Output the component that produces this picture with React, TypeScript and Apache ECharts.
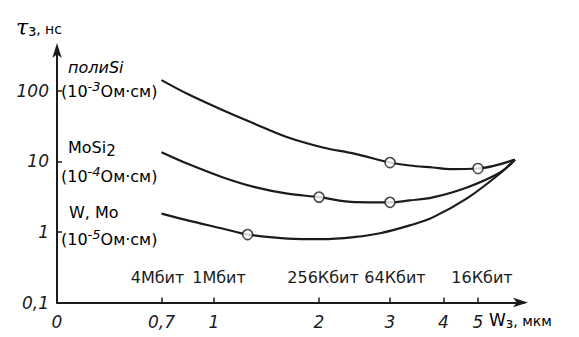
import React, { useEffect, useRef } from "react";
import * as echarts from "echarts";

// Hand-drawn (non-uniform) W axis: tick values and their axis units
const xTickW = [0, 0.7, 1, 2, 3, 4, 5];
const xTickLabels = ["0", "0,7", "1", "2", "3", "4", "5"];
const xScaleUnits = [0, 104.5, 157, 262, 333, 386.5, 421];
const xAxisMax = 467;

const memW = [0.7, 1, 2, 3, 5];
const memLabels = ["4Мбит", "1Мбит", "256Кбит", "64Кбит", "16Кбит"];

const yTicks = [0.1, 1, 10, 100];
const yTickLabels = ["0,1", "1", "10", "100"];

// полиSi (10^-3 Ом·см)
const polySiW = [0.7, 0.85, 1.08, 1.39, 1.7, 2.04, 2.51, 3, 3.37, 3.8, 4.19, 5, 6.07];
const polySiT = [142, 90.1, 53.5, 34.0, 22.0, 15.9, 12.8, 9.65, 8.75, 8.2, 7.8, 7.94, 10.6];
const polySiMarkW = [3, 5];
const polySiMarkT = [9.65, 7.94];

// MoSi2 (10^-4 Ом·см)
const moSi2W = [0.7, 0.85, 1.08, 1.39, 1.7, 2, 2.51, 3, 3.37, 3.8, 4.68, 5.64, 6.07];
const moSi2T = [13.5, 9.25, 5.98, 4.32, 3.49, 3.12, 2.65, 2.63, 2.8, 3.09, 4.28, 6.97, 10.6];
const moSi2MarkW = [2, 3];
const moSi2MarkT = [3.12, 2.63];

// W, Mo (10^-5 Ом·см)
const wMoW = [0.7, 0.85, 1.08, 1.32, 1.7, 2.04, 2.51, 2.86, 3.37, 3.8, 4.68, 5.64, 6.07];
const wMoT = [1.82, 1.46, 1.12, 0.919, 0.807, 0.789, 0.85, 0.96, 1.24, 1.61, 2.99, 6.75, 10.6];
const wMoMarkW = [1.32];
const wMoMarkT = [0.919];

function wToU(w: number): number {
  const n = xTickW.length;
  for (let i = 0; i < n - 1; i++) {
    if (w <= xTickW[i + 1]) {
      const f = (w - xTickW[i]) / (xTickW[i + 1] - xTickW[i]);
      return xScaleUnits[i] + f * (xScaleUnits[i + 1] - xScaleUnits[i]);
    }
  }
  const slope = (xScaleUnits[n - 1] - xScaleUnits[n - 2]) / (xTickW[n - 1] - xTickW[n - 2]);
  return xScaleUnits[n - 1] + (w - xTickW[n - 1]) * slope;
}

const pairs = (ws: number[], ts: number[]) => ws.map((w, i) => [wToU(w), ts[i]]);

const INK = "#1b1b1b";
const FONT = "DejaVu Sans";

export default function App() {
  const ref = useRef<HTMLDivElement>(null);
  useEffect(() => {
    if (!ref.current) return;
    const chart = echarts.init(ref.current, undefined, { renderer: "svg" });
    const tickUnits = xTickW.map(wToU);
    const memUnits = memW.map(wToU);
    const lookup = (units: number[], labels: string[]) => (v: number) => {
      let best = -1;
      let bestD = Infinity;
      for (let i = 0; i < units.length; i++) {
        const d = Math.abs(units[i] - v);
        if (d < bestD) {
          bestD = d;
          best = i;
        }
      }
      return best >= 0 && bestD < 2 ? labels[best] : "";
    };
    const lineSeries = (ws: number[], ts: number[]) => ({
      type: "line",
      data: pairs(ws, ts),
      smooth: 0.35,
      symbol: "none",
      lineStyle: { color: INK, width: 2.2 },
      z: 2,
    });
    const markSeries = (ws: number[], ts: number[]) => ({
      type: "scatter",
      data: pairs(ws, ts),
      symbol: "circle",
      symbolSize: 10,
      itemStyle: { color: "#fff", borderColor: INK, borderWidth: 1.6 },
      z: 3,
    });
    // memory-capacity labels: split over hidden axes so that neighbouring labels are never culled
    const memAxis = (idx: number[], padding: number[]) => ({
      type: "value",
      min: 0,
      max: xAxisMax,
      position: "bottom",
      axisLine: { show: false },
      axisTick: { show: false },
      splitLine: { show: false },
      axisLabel: {
        show: true,
        inside: true,
        hideOverlap: false,
        margin: 17,
        padding,
        customValues: idx.map((i) => memUnits[i]),
        formatter: lookup(memUnits, memLabels),
        fontFamily: FONT,
        fontSize: 16,
        color: INK,
      },
    });
    const noteRich = {
      n: { fontFamily: FONT, fontSize: 16, color: INK },
      i: { fontFamily: FONT, fontSize: 16, fontStyle: "italic", color: INK },
      sup: { fontFamily: FONT, fontSize: 13, fontStyle: "italic", color: INK, padding: [0, 0, 10, 0] },
      sub: { fontFamily: FONT, fontSize: 15, color: INK, padding: [8, 0, 0, 0] },
    };
    chart.setOption({
      animation: false,
      backgroundColor: "#fff",
      grid: { left: 57, right: 579 - 57 - xAxisMax, top: 47, bottom: 34.5, containLabel: false },
      xAxis: [
        {
          type: "value",
          min: 0,
          max: xAxisMax,
          axisLine: {
            show: true,
            onZero: false,
            lineStyle: { color: INK, width: 2 },
            symbol: ["none", "arrow"],
            symbolSize: [7, 15],
            symbolOffset: [0, 4],
          },
          axisTick: {
            show: true,
            inside: true,
            length: 5,
            lineStyle: { color: INK, width: 1.5 },
            customValues: tickUnits.slice(1),
          },
          axisLabel: {
            show: true,
            hideOverlap: false,
            customValues: tickUnits,
            formatter: lookup(tickUnits, xTickLabels),
            fontFamily: FONT,
            fontStyle: "italic",
            fontSize: 17,
            color: INK,
            margin: 11,
          },
          splitLine: { show: false },
        },
        memAxis([0], [0, 8, 0, 0]),
        memAxis([1, 3], [0, 0, 0, 10]),
        memAxis([2, 4], [0, 0, 0, 8]),
      ],
      yAxis: {
        type: "log",
        logBase: 10,
        min: 0.1,
        max: 419,
        axisLine: {
          show: true,
          lineStyle: { color: INK, width: 2 },
          symbol: ["none", "arrow"],
          symbolSize: [7, 15],
          symbolOffset: [0, 4],
        },
        axisTick: {
          show: true,
          inside: true,
          length: 5,
          lineStyle: { color: INK, width: 1.5 },
          customValues: yTicks.slice(1),
        },
        axisLabel: {
          show: true,
          hideOverlap: false,
          customValues: yTicks,
          formatter: (v: number) => {
            for (let i = 0; i < yTicks.length; i++)
              if (Math.abs(Math.log10(yTicks[i]) - Math.log10(v)) < 0.01) return yTickLabels[i];
            return "";
          },
          fontFamily: FONT,
          fontStyle: "italic",
          fontSize: 17,
          color: INK,
          margin: 8,
        },
        splitLine: { show: false },
      },
      series: [
        lineSeries(polySiW, polySiT),
        lineSeries(moSi2W, moSi2T),
        lineSeries(wMoW, wMoT),
        markSeries(polySiMarkW, polySiMarkT),
        markSeries(moSi2MarkW, moSi2MarkT),
        markSeries(wMoMarkW, wMoMarkT),
      ],
      graphic: [
        {
          type: "text",
          left: 16,
          top: 16,
          style: {
            text: "{t|τ}{s|з}{u|, нс}",
            rich: {
              t: { fontFamily: "DejaVu Serif", fontSize: 22, fontStyle: "italic", color: INK },
              s: { fontFamily: FONT, fontSize: 15, color: INK, padding: [8, 0, 0, 0] },
              u: { fontFamily: FONT, fontSize: 14, color: INK, padding: [4, 0, 0, 0] },
            },
          },
        },
        {
          type: "text",
          left: 489,
          top: 311,
          style: {
            text: "{w|W}{s|з}{u|, мкм}",
            rich: {
              w: { fontFamily: FONT, fontSize: 17, color: INK },
              s: { fontFamily: FONT, fontSize: 14, color: INK, padding: [6, 0, 0, 0] },
              u: { fontFamily: FONT, fontSize: 14, color: INK, padding: [3, 0, 0, 0] },
            },
          },
        },
        { type: "text", left: 68, top: 59, style: { text: "{i|полиSi}", rich: noteRich } },
        { type: "text", left: 61, top: 80, style: { text: "{n|(10}{sup|-3}{n|Ом·см)}", rich: noteRich } },
        { type: "text", left: 68, top: 139, style: { text: "{n|MoSi}{sub|2}", rich: noteRich } },
        { type: "text", left: 61, top: 165, style: { text: "{n|(10}{sup|-4}{n|Ом·см)}", rich: noteRich } },
        { type: "text", left: 69, top: 204, style: { text: "{n|W, Mo}", rich: noteRich } },
        { type: "text", left: 61, top: 228, style: { text: "{n|(10}{sup|-5}{n|Ом·см)}", rich: noteRich } },
      ],
    });
    return () => chart.dispose();
  }, []);
  return <div ref={ref} style={{ position: "fixed", left: 0, top: 0, width: 579, height: 337 }} />;
}
